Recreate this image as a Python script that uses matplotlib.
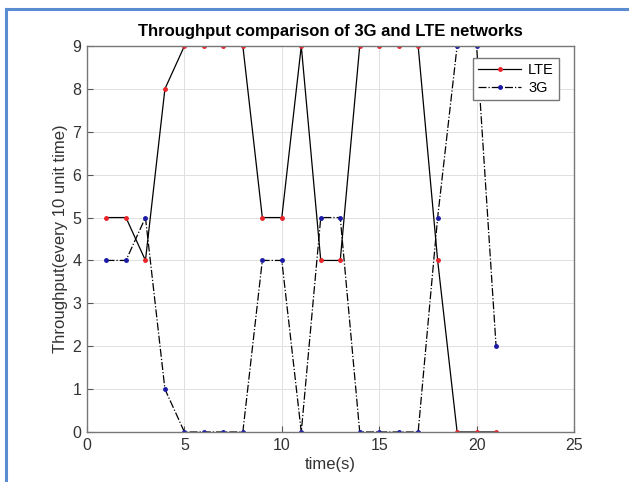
import matplotlib
matplotlib.use("Agg")
import matplotlib.pyplot as plt
from matplotlib.lines import Line2D

plt.rcParams["font.family"] = ["Liberation Sans", "DejaVu Sans"]

time_s = list(range(1, 22))
lte = [5, 5, 4, 8, 9, 9, 9, 9, 5, 5, 9, 4, 4, 9, 9, 9, 9, 4, 0, 0, 0]
g3 = [4, 4, 5, 1, 0, 0, 0, 0, 4, 4, 0, 5, 5, 0, 0, 0, 0, 5, 9, 9, 2]

W, H = 629, 482
fig = plt.figure(figsize=(W / 100, H / 100), dpi=100)
ax = fig.add_axes([87 / W, 1 - 432 / H, (574 - 87) / W, (432 - 46) / H])

ax.plot(time_s, lte, "-", color="black", lw=0.9, marker=".", ms=5,
        mfc="#e8242a", mec="#e8242a", label="LTE")
ax.plot(time_s, g3, "-.", color="black", lw=0.9, marker=".", ms=5,
        mfc="#1a1aa6", mec="#1a1aa6", label="3G")

ax.set_xlim(0, 25)
ax.set_ylim(0, 9)
ax.set_xticks(range(0, 26, 5))
ax.set_yticks(range(0, 10))
ax.grid(True, color="#e0e0e0", lw=0.7)
ax.set_axisbelow(True)
ax.tick_params(direction="in", length=4, colors="#555555", labelsize=11.5,
               labelcolor="#333333", pad=4)
for s in ax.spines.values():
    s.set_color("#777777")
    s.set_linewidth(1.0)

ax.set_title("Throughput comparison of 3G and LTE networks", fontsize=12,
             fontweight="bold", pad=7)
ax.set_xlabel("time(s)", fontsize=12, color="#333333", labelpad=3)
ax.set_ylabel("Throughput(every 10 unit time)", fontsize=12,
              color="#333333", labelpad=3)

leg = ax.legend(loc="upper right", bbox_to_anchor=(0.969, 0.969), fontsize=10.5,
                fancybox=False, framealpha=1, edgecolor="#777777",
                handlelength=2.9, borderpad=0.35, labelspacing=0.25,
                handletextpad=0.5, borderaxespad=0)
leg.get_frame().set_linewidth(1.0)

# blue frame of the screenshot
fig.add_artist(Line2D([6 / W, 6 / W], [0, 1 - 9 / H], color="#5b8bd0", lw=2.2,
                      transform=fig.transFigure))
fig.add_artist(Line2D([6 / W, 1], [1 - 9 / H, 1 - 9 / H], color="#5b8bd0", lw=2.2,
                      transform=fig.transFigure))

fig.savefig("out.png", dpi=100)
